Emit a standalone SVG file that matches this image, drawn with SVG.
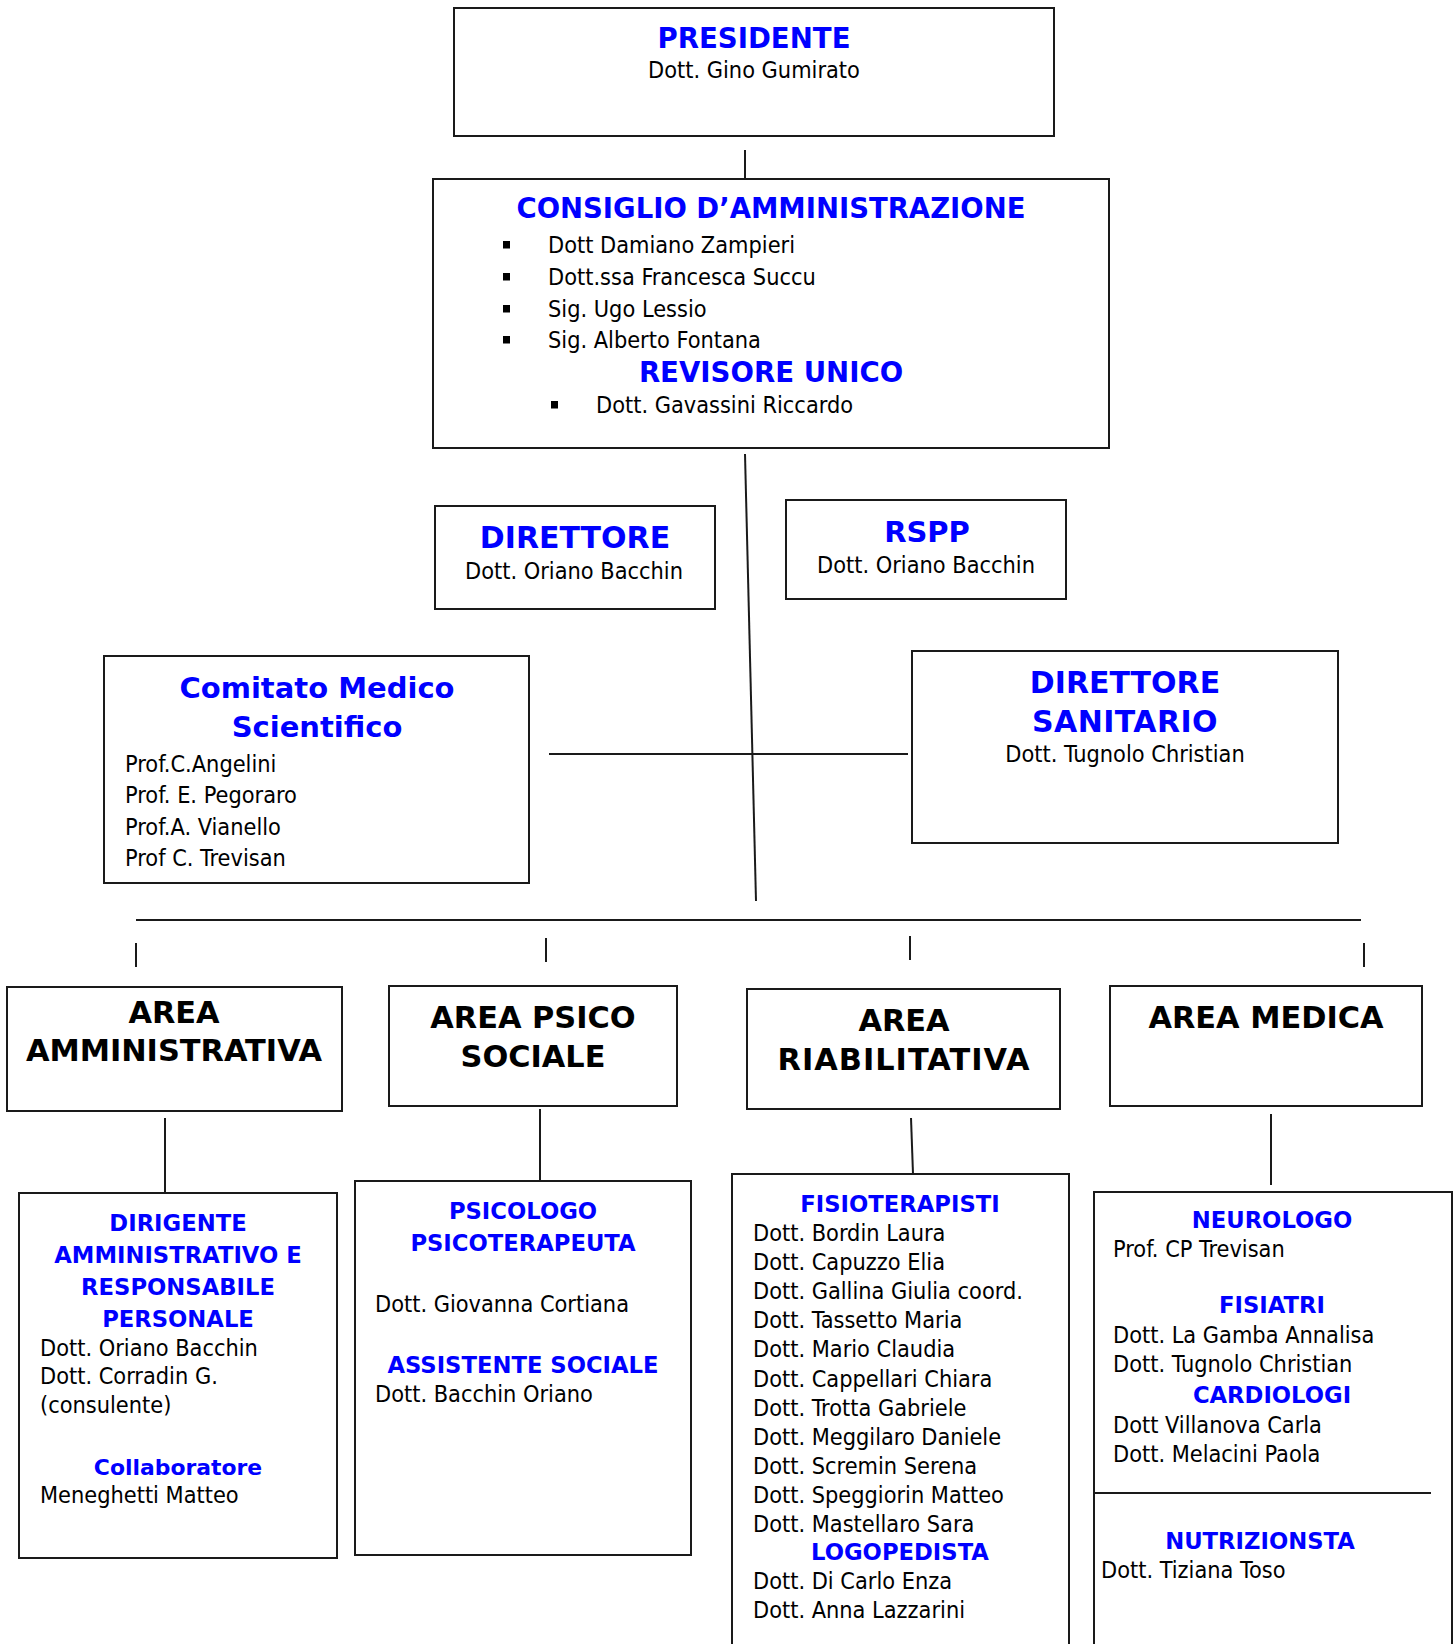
<svg xmlns="http://www.w3.org/2000/svg" width="1456" height="1644" viewBox="0 0 1456 1644">
<style>
.box{fill:#fff;stroke:#1a1a1a;stroke-width:2}
.ln{stroke:#1a1a1a;stroke-width:2;fill:none}
.t{font-family:'DejaVu Sans Condensed','DejaVu Sans',sans-serif;font-stretch:condensed;font-size:23.3px;fill:#000}
.h{font-family:'DejaVu Sans','Verdana',sans-serif;font-weight:bold;fill:#0000ff;text-anchor:middle}
.hk{font-family:'DejaVu Sans','Verdana',sans-serif;font-weight:bold;fill:#000;text-anchor:middle;font-size:30.4px}
.c{text-anchor:middle}
.s{font-size:22.7px}
</style>
<rect width="1456" height="1644" fill="#fff"/>
<g id="connectors">
<line class="ln" x1="745" y1="150" x2="745" y2="179"/>
<line class="ln" x1="745" y1="454" x2="756" y2="901"/>
<line class="ln" x1="549" y1="754" x2="908" y2="754"/>
<line class="ln" x1="136" y1="920" x2="1361" y2="920"/>
<line class="ln" x1="136" y1="943" x2="136" y2="967"/>
<line class="ln" x1="546" y1="938" x2="546" y2="962"/>
<line class="ln" x1="910" y1="936" x2="910" y2="960"/>
<line class="ln" x1="1364" y1="943" x2="1364" y2="967"/>
<line class="ln" x1="165" y1="1118" x2="165" y2="1193"/>
<line class="ln" x1="540" y1="1109" x2="540" y2="1181"/>
<line class="ln" x1="911" y1="1118" x2="913" y2="1174"/>
<line class="ln" x1="1271" y1="1114" x2="1271" y2="1185"/>
</g>
<g id="presidente">
<rect class="box" x="454" y="8" width="600" height="128"/>
<text class="h" x="754" y="48" font-size="27.6">PRESIDENTE</text>
<text class="t c" x="754" y="78">Dott. Gino Gumirato</text>
</g>
<g id="consiglio">
<rect class="box" x="433" y="179" width="676" height="269"/>
<text class="h" x="771" y="218" font-size="27.5">CONSIGLIO D’AMMINISTRAZIONE</text>
<rect x="503" y="241" width="7" height="7.5" fill="#000"/>
<rect x="503" y="273" width="7" height="7.5" fill="#000"/>
<rect x="503" y="305" width="7" height="7.5" fill="#000"/>
<rect x="503" y="336" width="7" height="7.5" fill="#000"/>
<text class="t" x="548" y="253">Dott Damiano Zampieri</text>
<text class="t" x="548" y="285">Dott.ssa Francesca Succu</text>
<text class="t" x="548" y="317">Sig. Ugo Lessio</text>
<text class="t" x="548" y="348">Sig. Alberto Fontana</text>
<text class="h" x="771" y="382" font-size="27.6">REVISORE UNICO</text>
<rect x="551" y="401" width="7" height="7.5" fill="#000"/>
<text class="t" x="596" y="413">Dott. Gavassini Riccardo</text>
</g>
<g id="direttore">
<rect class="box" x="435" y="506" width="280" height="103"/>
<text class="h" x="575" y="548" font-size="30">DIRETTORE</text>
<text class="t c" x="574" y="579">Dott. Oriano Bacchin</text>
</g>
<g id="rspp">
<rect class="box" x="786" y="500" width="280" height="99"/>
<text class="h" x="927" y="542" font-size="29">RSPP</text>
<text class="t c" x="926" y="573">Dott. Oriano Bacchin</text>
</g>
<g id="comitato">
<rect class="box" x="104" y="656" width="425" height="227"/>
<text class="h" x="317" y="698" font-size="29">Comitato Medico</text>
<text class="h" x="317" y="737" font-size="29">Scientifico</text>
<text class="t" x="125" y="772">Prof.C.Angelini</text>
<text class="t" x="125" y="803">Prof. E. Pegoraro</text>
<text class="t" x="125" y="835">Prof.A. Vianello</text>
<text class="t" x="125" y="866">Prof C. Trevisan</text>
</g>
<g id="direttore-sanitario">
<rect class="box" x="912" y="651" width="426" height="192"/>
<text class="h" x="1125" y="693" font-size="30">DIRETTORE</text>
<text class="h" x="1125" y="732" font-size="30" letter-spacing="0.4">SANITARIO</text>
<text class="t c" x="1125" y="762">Dott. Tugnolo Christian</text>
</g>
<g id="area-amministrativa">
<rect class="box" x="7" y="987" width="335" height="124"/>
<text class="hk" x="174" y="1023">AREA</text>
<text class="hk" x="174" y="1061">AMMINISTRATIVA</text>
</g>
<g id="area-psico-sociale">
<rect class="box" x="389" y="986" width="288" height="120"/>
<text class="hk" x="533" y="1028">AREA PSICO</text>
<text class="hk" x="533" y="1067">SOCIALE</text>
</g>
<g id="area-riabilitativa">
<rect class="box" x="747" y="989" width="313" height="120"/>
<text class="hk" x="904" y="1031">AREA</text>
<text class="hk" x="904" y="1070" letter-spacing="1">RIABILITATIVA</text>
</g>
<g id="area-medica">
<rect class="box" x="1110" y="986" width="312" height="120"/>
<text class="hk" x="1266" y="1028">AREA MEDICA</text>
</g>
<g id="amministrativo">
<rect class="box" x="19" y="1193" width="318" height="365"/>
<text class="h s" x="178" y="1231">DIRIGENTE</text>
<text class="h s" x="178" y="1263">AMMINISTRATIVO E</text>
<text class="h s" x="178" y="1295">RESPONSABILE</text>
<text class="h s" x="178" y="1327">PERSONALE</text>
<text class="t" x="40" y="1356">Dott. Oriano Bacchin</text>
<text class="t" x="40" y="1384">Dott. Corradin G.</text>
<text class="t" x="40" y="1413">(consulente)</text>
<text class="h" x="178" y="1475" font-size="21.9">Collaboratore</text>
<text class="t" x="40" y="1503">Meneghetti Matteo</text>
</g>
<g id="psicosociale">
<rect class="box" x="355" y="1181" width="336" height="374"/>
<text class="h s" x="523" y="1219">PSICOLOGO</text>
<text class="h s" x="523" y="1251">PSICOTERAPEUTA</text>
<text class="t" x="375" y="1312">Dott. Giovanna Cortiana</text>
<text class="h s" x="523" y="1373">ASSISTENTE SOCIALE</text>
<text class="t" x="375" y="1402">Dott. Bacchin Oriano</text>
</g>
<g id="riabilitativo">
<rect class="box" x="732" y="1174" width="337" height="480"/>
<text class="h s" x="900" y="1212">FISIOTERAPISTI</text>
<text class="t" x="753" y="1241">Dott. Bordin Laura</text>
<text class="t" x="753" y="1270">Dott. Capuzzo Elia</text>
<text class="t" x="753" y="1299">Dott. Gallina Giulia coord.</text>
<text class="t" x="753" y="1328">Dott. Tassetto Maria</text>
<text class="t" x="753" y="1357">Dott. Mario Claudia</text>
<text class="t" x="753" y="1387">Dott. Cappellari Chiara</text>
<text class="t" x="753" y="1416">Dott. Trotta Gabriele</text>
<text class="t" x="753" y="1445">Dott. Meggilaro Daniele</text>
<text class="t" x="753" y="1474">Dott. Scremin Serena</text>
<text class="t" x="753" y="1503">Dott. Speggiorin Matteo</text>
<text class="t" x="753" y="1532">Dott. Mastellaro Sara</text>
<text class="h s" x="900" y="1560">LOGOPEDISTA</text>
<text class="t" x="753" y="1589">Dott. Di Carlo Enza</text>
<text class="t" x="753" y="1618">Dott. Anna Lazzarini</text>
</g>
<g id="medico">
<rect class="box" x="1094" y="1192" width="358" height="462"/>
<line class="ln" x1="1093" y1="1493" x2="1431" y2="1493"/>
<text class="h s" x="1272" y="1228">NEUROLOGO</text>
<text class="t" x="1113" y="1257">Prof. CP Trevisan</text>
<text class="h s" x="1272" y="1313">FISIATRI</text>
<text class="t" x="1113" y="1343">Dott. La Gamba Annalisa</text>
<text class="t" x="1113" y="1372">Dott. Tugnolo Christian</text>
<text class="h s" x="1272" y="1403">CARDIOLOGI</text>
<text class="t" x="1113" y="1433">Dott Villanova Carla</text>
<text class="t" x="1113" y="1462">Dott. Melacini Paola</text>
<text class="h s" x="1260" y="1549">NUTRIZIONSTA</text>
<text class="t" x="1101" y="1578">Dott. Tiziana Toso</text>
</g>
</svg>
